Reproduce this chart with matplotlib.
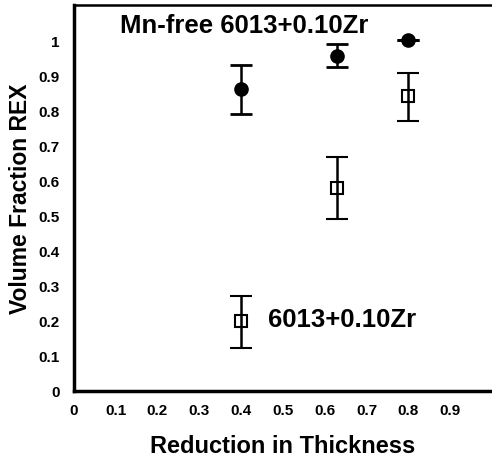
import matplotlib.pyplot as plt

# filled circles: Mn-free 6013+0.10Zr
mnfree_x = [0.40, 0.63, 0.80]
mnfree_y = [0.86, 0.955, 1.00]
mnfree_lo = [0.79, 0.922, 1.00]
mnfree_hi = [0.93, 0.99, 1.00]

# open squares: 6013+0.10Zr
zr_x = [0.40, 0.63, 0.80]
zr_y = [0.20, 0.577, 0.84]
zr_lo = [0.123, 0.489, 0.769]
zr_hi = [0.27, 0.666, 0.906]

xticks = [0, 0.1, 0.2, 0.3, 0.4, 0.5, 0.6, 0.7, 0.8, 0.9]
yticks = [0, 0.1, 0.2, 0.3, 0.4, 0.5, 0.6, 0.7, 0.8, 0.9, 1]

plt.rcParams['font.family'] = ['Liberation Sans', 'DejaVu Sans']
plt.rcParams['font.weight'] = 'bold'

fig = plt.figure(figsize=(4.92, 4.6), dpi=100)
ax = fig.add_axes([0.150, 0.148, 0.85, 0.839])

err1 = [[y - l for y, l in zip(mnfree_y, mnfree_lo)], [h - y for y, h in zip(mnfree_y, mnfree_hi)]]
err2 = [[y - l for y, l in zip(zr_y, zr_lo)], [h - y for y, h in zip(zr_y, zr_hi)]]

ax.errorbar(mnfree_x, mnfree_y, yerr=err1, fmt='o', color='black', ms=9.5,
            capsize=8, elinewidth=1.8, capthick=2)
ax.errorbar(zr_x, zr_y, yerr=err2, fmt='s', color='black', mfc='none', ms=9,
            capsize=8, elinewidth=1.8, capthick=2, mew=1.5)

ax.text(0.11, 1.043, 'Mn-free 6013+0.10Zr', fontsize=18.5, fontweight='bold', va='center')
ax.text(0.465, 0.205, '6013+0.10Zr', fontsize=18.5, fontweight='bold', va='center')

ax.set_xlim(0, 1.0)
ax.set_ylim(0, 1.1)
ax.set_xticks(xticks)
ax.set_xticklabels([str(t) for t in xticks])
ax.set_yticks(yticks)
ax.set_yticklabels([str(t) for t in yticks])
ax.tick_params(length=0, labelsize=11)
ax.tick_params(axis='y', pad=10)
ax.tick_params(axis='x', pad=9)

ax.spines['right'].set_visible(False)
ax.spines['left'].set_linewidth(2.5)
ax.spines['bottom'].set_linewidth(2.5)
ax.spines['top'].set_linewidth(1.8)

ax.set_xlabel('Reduction in Thickness', fontsize=17, fontweight='bold', labelpad=12)
ax.set_ylabel('Volume Fraction REX', fontsize=16.5, fontweight='bold', labelpad=5)

plt.savefig('out.png', dpi=100)
